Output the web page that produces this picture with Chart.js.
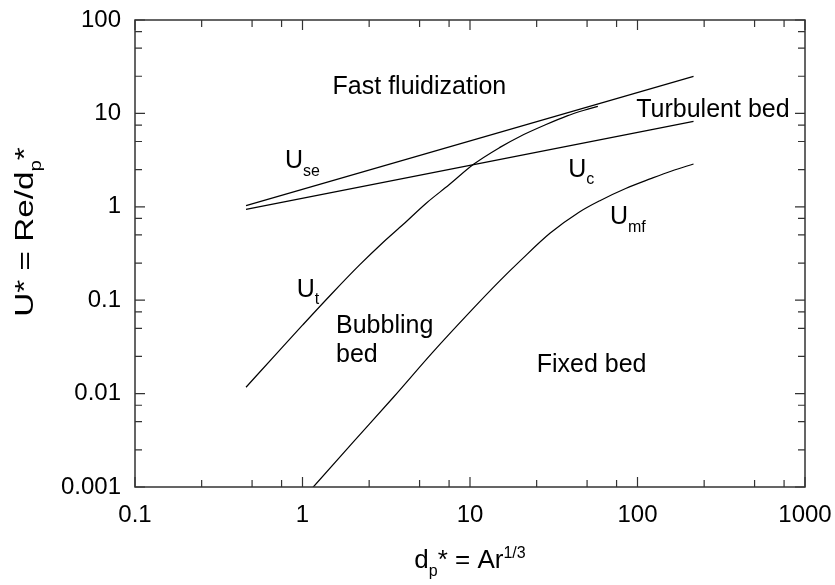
<!DOCTYPE html>
<html>
<head>
<meta charset="utf-8">
<style>
html,body{margin:0;padding:0;background:#fff;}
#wrap{width:835px;height:585px;position:relative;}
</style>
<script src="https://cdn.jsdelivr.net/npm/chart.js@4.4.1/dist/chart.umd.min.js"></script>
</head>
<body>
<div id="wrap"><canvas id="c"></canvas></div>
<script>
// ---- axis ticks ----
const xTickValues = [0.1, 1, 10, 100, 1000];
const xTickLabels = ['0.1', '1', '10', '100', '1000'];
const yTickValues = [0.001, 0.01, 0.1, 1, 10, 100];
const yTickLabels = ['0.001', '0.01', '0.1', '1', '10', '100'];
const minorMultipliers = [2.5, 5, 7.5];

// ---- series ----
const useX = [0.46, 216];
const useY = [1.03, 24.9];
const ucX = [0.46, 216];
const ucY = [0.94, 8.2];
const utX = [0.46, 0.7, 1.0, 1.5, 2.2, 3.0, 4.0, 5.5, 7.5, 10.5, 15, 20, 28, 38, 48, 58];
const utY = [0.0117, 0.0268, 0.054, 0.118, 0.24, 0.41, 0.65, 1.1, 1.72, 2.85, 4.3, 5.7, 7.5, 9.4, 10.8, 11.9];
const umfX = [1.0, 1.16, 2, 3.5, 6, 10, 15, 20, 30, 45, 60, 85, 120, 160, 216];
const umfY = [0.00074, 0.001, 0.003, 0.0092, 0.0278, 0.075, 0.16, 0.265, 0.52, 0.88, 1.17, 1.57, 2.0, 2.42, 2.87];

// ---- text labels placed at data coordinates ----
const regionLabels = [
  {parts:[{t:'Fast fluidization'}], x:4.99, y:16.0, align:'center'},
  {parts:[{t:'Turbulent bed'}], x:282, y:9.09, align:'center'},
  {parts:[{t:'Bubbling'}], x:1.585, y:0.0449, align:'left'},
  {parts:[{t:'bed'}], x:1.585, y:0.022, align:'left'},
  {parts:[{t:'Fixed bed'}], x:25.0, y:0.01716, align:'left'},
  {parts:[{t:'U'},{t:'se',sub:true}], x:0.786, y:2.58, align:'left'},
  {parts:[{t:'U'},{t:'t',sub:true}], x:0.923, y:0.109, align:'left'},
  {parts:[{t:'U'},{t:'c',sub:true}], x:38.6, y:2.10, align:'left'},
  {parts:[{t:'U'},{t:'mf',sub:true}], x:68.5, y:0.654, align:'left'}
];
const xTitleParts = [{t:'d'},{t:'p',sub:true},{t:'* = Ar'},{t:'1/3',sup:true}];
const yTitleParts = [{t:'U* = Re/d'},{t:'p',sub:true},{t:'*'}];

const FAMILY = "'Liberation Sans', Arial, Helvetica, sans-serif";
const MAIN_PX = 25, SUB_PX = 16;

function toPts(xs, ys){ return xs.map((v,i)=>({x:v, y:ys[i]})); }

function partsWidth(ctx, parts, main){
  let w = 0;
  for (const p of parts){
    ctx.font = ((p.sub||p.sup)?SUB_PX:main) + 'px ' + FAMILY;
    w += ctx.measureText(p.t).width;
  }
  return w;
}
function drawParts(ctx, parts, x, y, main){
  ctx.textBaseline = 'alphabetic';
  ctx.textAlign = 'left';
  let cx = x;
  for (const p of parts){
    const small = p.sub || p.sup;
    ctx.font = (small?SUB_PX:main) + 'px ' + FAMILY;
    const dy = p.sub ? 7.5 : (p.sup ? -10 : 0);
    ctx.fillText(p.t, cx, y + dy);
    cx += ctx.measureText(p.t).width;
  }
}

const framePlugin = {
  id:'frameTicks',
  afterDatasetsDraw(chart){
    const {ctx, chartArea:a, scales} = chart;
    const xs = scales.x, ys = scales.y;
    ctx.save();
    ctx.strokeStyle = '#333';
    ctx.lineWidth = 1.5;
    ctx.strokeRect(a.left, a.top, a.right - a.left, a.bottom - a.top);
    ctx.lineWidth = 1.2;
    const MAJ = 10, MIN = 7;
    ctx.beginPath();
    for (const v of xTickValues){
      const px = xs.getPixelForValue(v);
      ctx.moveTo(px, a.bottom); ctx.lineTo(px, a.bottom - MAJ);
      ctx.moveTo(px, a.top); ctx.lineTo(px, a.top + MAJ);
      for (const m of minorMultipliers){
        const mv = v * m;
        if (mv >= xs.max) continue;
        const mp = xs.getPixelForValue(mv);
        ctx.moveTo(mp, a.bottom); ctx.lineTo(mp, a.bottom - MIN);
        ctx.moveTo(mp, a.top); ctx.lineTo(mp, a.top + MIN);
      }
    }
    for (const v of yTickValues){
      const py = ys.getPixelForValue(v);
      ctx.moveTo(a.left, py); ctx.lineTo(a.left + MAJ, py);
      ctx.moveTo(a.right, py); ctx.lineTo(a.right - MAJ, py);
      for (const m of minorMultipliers){
        const mv = v * m;
        if (mv >= ys.max) continue;
        const mp = ys.getPixelForValue(mv);
        ctx.moveTo(a.left, mp); ctx.lineTo(a.left + MIN, mp);
        ctx.moveTo(a.right, mp); ctx.lineTo(a.right - MIN, mp);
      }
    }
    ctx.stroke();

    ctx.fillStyle = '#000';
    for (const L of regionLabels){
      const px = xs.getPixelForValue(L.x);
      const py = ys.getPixelForValue(L.y);
      const w = partsWidth(ctx, L.parts, MAIN_PX);
      const sx = L.align === 'center' ? px - w/2 : px;
      drawParts(ctx, L.parts, sx, py, MAIN_PX);
    }
    // axis titles
    const TITLE_PX = 26;
    const xw = partsWidth(ctx, xTitleParts, TITLE_PX);
    drawParts(ctx, xTitleParts, (a.left + a.right)/2 - xw/2, a.bottom + 81, TITLE_PX);
    const yw = partsWidth(ctx, yTitleParts, TITLE_PX);
    ctx.save();
    ctx.translate(33, a.top + 212);
    ctx.rotate(-Math.PI/2);
    ctx.scale(1.28, 1);
    drawParts(ctx, yTitleParts, -yw/2, 0, TITLE_PX);
    ctx.restore();
    ctx.restore();
  }
};

const lineStyle = {borderColor:'#000', borderWidth:1.2, pointRadius:0, fill:false, cubicInterpolationMode:'monotone'};

new Chart(document.getElementById('c'), {
  type:'line',
  data:{
    datasets:[
      Object.assign({label:'Use', data:toPts(useX, useY)}, lineStyle),
      Object.assign({label:'Uc', data:toPts(ucX, ucY)}, lineStyle),
      Object.assign({label:'Ut', data:toPts(utX, utY)}, lineStyle),
      Object.assign({label:'Umf', data:toPts(umfX, umfY)}, lineStyle)
    ]
  },
  options:{
    responsive:true,
    maintainAspectRatio:false,
    animation:false,
    layout:{padding:{left:0, right:30, top:20, bottom:0}},
    plugins:{legend:{display:false}, tooltip:{enabled:false}},
    scales:{
      x:{
        type:'logarithmic', position:'bottom', min:0.1, max:1000,
        afterBuildTicks(s){ s.ticks = xTickValues.map(v=>({value:v})); },
        afterFit(s){ s.height = 98; s.paddingLeft = 0; s.paddingRight = 0; },
        grid:{display:false, drawTicks:false},
        border:{display:false},
        ticks:{
          autoSkip:false, maxRotation:0, padding:14, color:'#000',
          font:{family:FAMILY, size:24},
          callback(v){ const i = xTickValues.indexOf(v); return i >= 0 ? xTickLabels[i] : ''; }
        }
      },
      y:{
        type:'logarithmic', position:'left', min:0.001, max:100,
        afterBuildTicks(s){ s.ticks = yTickValues.map(v=>({value:v})); },
        afterFit(s){ s.width = 135; s.paddingTop = 0; s.paddingBottom = 0; },
        grid:{display:false, drawTicks:false},
        border:{display:false},
        ticks:{
          autoSkip:false, padding:14, color:'#000',
          font:{family:FAMILY, size:24},
          callback(v){ const i = yTickValues.indexOf(v); return i >= 0 ? yTickLabels[i] : ''; }
        }
      }
    }
  },
  plugins:[framePlugin]
});
</script>
</body>
</html>
